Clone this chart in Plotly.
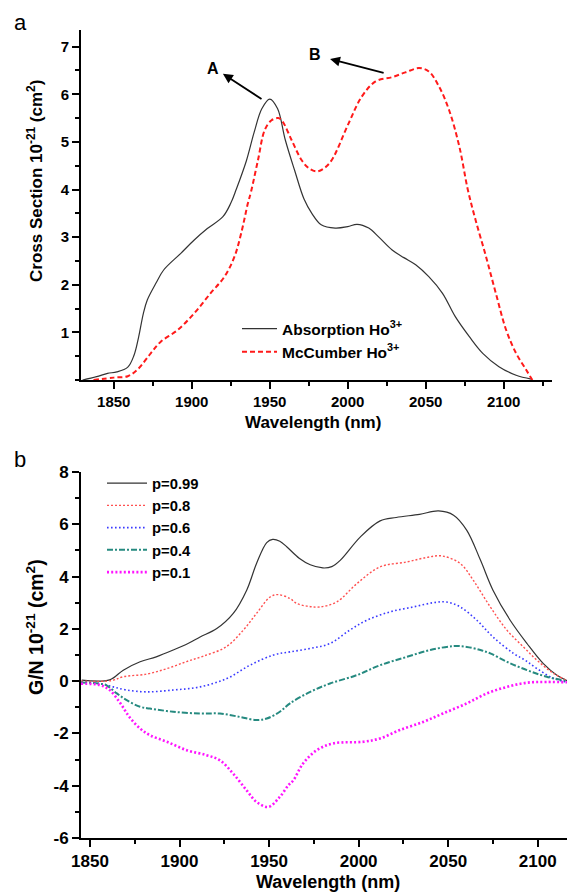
import plotly.graph_objects as go

# ---------------- Panel a data ----------------
abs_x = [1830, 1839, 1846, 1852, 1859, 1863, 1866, 1869, 1871.5, 1877, 1882, 1893, 1901.6, 1910,
         1920, 1925, 1928.5, 1935, 1940, 1945, 1950, 1955, 1960, 1966, 1972, 1977, 1983, 1992,
         2000, 2006, 2013.5, 2020, 2028.5, 2036, 2043.6, 2052, 2060.8, 2069, 2078, 2086.6, 2097,
         2108, 2117.7]
abs_y = [0.0, 0.07, 0.14, 0.17, 0.27, 0.52, 0.91, 1.4, 1.68, 2.03, 2.31, 2.66, 2.94, 3.18,
         3.43, 3.71, 4.0, 4.6, 5.2, 5.7, 5.9, 5.7, 5.04, 4.4, 3.8, 3.5, 3.26, 3.19,
         3.22, 3.27, 3.19, 3.0, 2.73, 2.57, 2.42, 2.17, 1.82, 1.33, 0.91, 0.56, 0.28,
         0.1, 0.02]

mc_x = [1837, 1850, 1859, 1865, 1873.7, 1880, 1891, 1901.6, 1912, 1921, 1927.4, 1931.7, 1936,
        1938, 1942.5, 1946.8, 1951, 1955.4, 1958, 1964, 1970.4, 1975, 1980, 1985, 1989.8, 2000.6,
        2009, 2017.9, 2028.5, 2037, 2045.7, 2052, 2058.6, 2065, 2071.6, 2077, 2082, 2088.7, 2095,
        2101.6, 2108, 2114.5, 2118.4]
mc_y = [0.0, 0.05, 0.08, 0.21, 0.56, 0.8, 1.05, 1.4, 1.82, 2.17, 2.59, 3.08, 3.71,
        3.95, 4.62, 5.25, 5.45, 5.5, 5.44, 5.04, 4.62, 4.45, 4.38, 4.45, 4.62, 5.39,
        5.95, 6.27, 6.36, 6.46, 6.55, 6.48, 6.16, 5.67, 4.9, 4.0, 3.36, 2.59, 1.82,
        1.05, 0.56, 0.21, 0.0]

# ---------------- Panel b data ----------------
p99_x = [1845.4, 1861, 1868.6, 1878, 1887, 1896.5, 1905, 1911.5, 1920.8, 1930, 1937.5, 1943, 1948.7,
         1952, 1956, 1960, 1967, 1973, 1980, 1985, 1989.7, 2001, 2012, 2021, 2034, 2044.6, 2053,
         2060.4, 2068, 2075, 2084.6, 2094, 2103, 2110.7, 2120]
p99_y = [0.04, 0.05, 0.42, 0.74, 0.93, 1.19, 1.45, 1.69, 2.01, 2.59, 3.48, 4.5, 5.3,
         5.42, 5.35, 5.13, 4.69, 4.45, 4.33, 4.38, 4.62, 5.52, 6.13, 6.26, 6.38, 6.51, 6.35,
         5.77, 4.63, 3.48, 2.33, 1.44, 0.68, 0.23, -0.09]

p08_x = [1845, 1862, 1868.6, 1881.7, 1893, 1904, 1913, 1926, 1935.6, 1943, 1950.6, 1955, 1961.7,
         1965.5, 1972, 1978.5, 1987.8, 1999, 2012, 2027, 2038, 2046.5, 2056.7, 2064, 2073.5,
         2082.8, 2092, 2099.6, 2109, 2120]
p08_y = [0.0, 0.02, 0.17, 0.27, 0.48, 0.75, 0.95, 1.31, 1.95, 2.59, 3.22, 3.31, 3.16,
         2.97, 2.86, 2.84, 3.03, 3.73, 4.37, 4.56, 4.73, 4.79, 4.5, 3.86, 2.84,
         1.95, 1.31, 0.8, 0.29, -0.09]

p06_x = [1845, 1855.6, 1863, 1870.5, 1881.7, 1896.5, 1911.5, 1926.4, 1939.4, 1952.4, 1961.7, 1973,
         1984, 1995, 2004.6, 2017.6, 2030.6, 2041.7, 2049, 2056.7, 2066, 2075, 2086.5, 2093,
         2099.6, 2109, 2120]
p06_y = [-0.05, -0.09, -0.22, -0.34, -0.41, -0.34, -0.22, 0.1, 0.61, 1.0, 1.12, 1.25,
         1.44, 1.95, 2.33, 2.65, 2.84, 3.0, 3.03, 2.84, 2.33, 1.69, 1.06, 0.8,
         0.48, 0.1, -0.09]

p04_x = [1845, 1855.6, 1859, 1865, 1870.5, 1878, 1883.5, 1896.5, 1911.5, 1922.6, 1933.8, 1943,
         1948.7, 1956, 1961.7, 1973, 1984, 1999, 2012, 2027, 2040, 2053, 2060.4, 2068, 2073.5,
         2082.8, 2094, 2105, 2120]
p04_y = [-0.05, -0.1, -0.15, -0.47, -0.73, -0.98, -1.05, -1.17, -1.24, -1.24, -1.37, -1.49,
         -1.43, -1.17, -0.85, -0.41, -0.09, 0.23, 0.61, 0.93, 1.19, 1.34, 1.31, 1.19, 1.06,
         0.74, 0.42, 0.17, -0.05]

p01_x = [1845, 1855.6, 1861, 1867, 1872, 1878, 1883.5, 1893, 1904, 1915, 1922.6, 1930, 1937.5,
         1943, 1949.6, 1956, 1960.8, 1963.6, 1969, 1976.6, 1986, 2002.7, 2012, 2023, 2036, 2047,
         2060.4, 2071.6, 2082.8, 2094, 2105, 2120]
p01_y = [-0.1, -0.15, -0.34, -0.85, -1.37, -1.81, -2.07, -2.32, -2.64, -2.83, -3.03, -3.54, -4.18,
         -4.62, -4.81, -4.43, -3.98, -3.79, -3.15, -2.64, -2.38, -2.32, -2.19, -1.87, -1.56, -1.24,
         -0.85, -0.47, -0.22, -0.06, -0.03, -0.05]

x_ticks = [1850, 1900, 1950, 2000, 2050, 2100]
ya_ticks = [1, 2, 3, 4, 5, 6, 7]
yb_ticks = [-6, -4, -2, 0, 2, 4, 6, 8]

# ---------------- layout helpers ----------------
OFF = 8  # page body margin
W, H = 575 - OFF, 895 - OFF
L, R, T, B = 81 - OFF, 0, 30 - OFF, 895 - 838
PW, PH = W - L - R, H - T - B


def px2x(px):
    return (px - OFF - L) / PW


def px2y(py):
    return (H - B - (py - OFF)) / PH


FONT = "Liberation Sans, Arial, sans-serif"


def bold(vals):
    return ["<b>%s</b>" % v for v in vals]


fig = go.Figure()

fig.add_trace(go.Scatter(x=abs_x, y=abs_y, mode="lines", line=dict(color="#333333", width=1.2, shape="spline"),
                         name="<b>Absorption Ho<sup>3+</sup></b>", xaxis="x", yaxis="y", legend="legend"))
fig.add_trace(go.Scatter(x=mc_x, y=mc_y, mode="lines", line=dict(color="#ff1a1a", width=2, dash="5px,3px", shape="spline"),
                         name="<b>McCumber Ho<sup>3+</sup></b>", xaxis="x", yaxis="y", legend="legend"))

fig.add_trace(go.Scatter(x=p99_x, y=p99_y, mode="lines", line=dict(color="#333333", width=1.2, shape="spline"),
                         name="<b>p=0.99</b>", xaxis="x2", yaxis="y2", legend="legend2"))
fig.add_trace(go.Scatter(x=p08_x, y=p08_y, mode="lines", line=dict(color="#ff5050", width=1.4, dash="2px,2px", shape="spline"),
                         name="<b>p=0.8</b>", xaxis="x2", yaxis="y2", legend="legend2"))
fig.add_trace(go.Scatter(x=p06_x, y=p06_y, mode="lines", line=dict(color="#3a3aff", width=1.6, dash="1.6px,2.4px", shape="spline"),
                         name="<b>p=0.6</b>", xaxis="x2", yaxis="y2", legend="legend2"))
fig.add_trace(go.Scatter(x=p04_x, y=p04_y, mode="lines", line=dict(color="#268a80", width=2, dash="6px,2px,2px,2px", shape="spline"),
                         name="<b>p=0.4</b>", xaxis="x2", yaxis="y2", legend="legend2"))
fig.add_trace(go.Scatter(x=p01_x, y=p01_y, mode="lines", line=dict(color="#ff14ff", width=2.6, dash="2px,2.2px", shape="spline"),
                         name="<b>p=0.1</b>", xaxis="x2", yaxis="y2", legend="legend2"))


def axis_common(fs):
    return dict(showline=True, linecolor="black", linewidth=2, ticks="outside", ticklen=7, tickwidth=2,
                tickcolor="black", showgrid=False, zeroline=False, mirror=False,
                tickfont=dict(family=FONT, size=fs, color="black"))


def minor(dt, t0):
    return dict(dtick=dt, tick0=t0, ticks="outside", ticklen=4, tickwidth=1.5, tickcolor="black")


top_dom_low = px2y(380)
bot_dom_high = px2y(472)

fig.update_layout(
    width=W, height=H,
    margin=dict(l=L, r=R, t=T, b=B),
    paper_bgcolor="white", plot_bgcolor="white",
    font=dict(family=FONT, size=15, color="black"),
    xaxis=dict(domain=[0, px2x(552)], range=[1829, 2131], anchor="y", tickmode="array",
               tickvals=x_ticks, ticktext=bold(x_ticks), minor=minor(25, 1825), **axis_common(15)),
    yaxis=dict(domain=[top_dom_low, 1], range=[0, 7.35], anchor="x", tickmode="array",
               tickvals=ya_ticks, ticktext=bold(ya_ticks), minor=minor(0.5, 0), **axis_common(15)),
    xaxis2=dict(domain=[0, 1], range=[1845, 2120.8], anchor="y2", tickmode="array",
                tickvals=x_ticks, ticktext=bold(x_ticks), minor=minor(25, 1825), **axis_common(17)),
    yaxis2=dict(domain=[0, bot_dom_high], range=[-6, 8], anchor="x2", tickmode="array",
                tickvals=yb_ticks, ticktext=bold(yb_ticks), minor=minor(1, 0), **axis_common(17)),
    legend=dict(x=px2x(237), y=px2y(312), xanchor="left", yanchor="top", bgcolor="rgba(0,0,0,0)",
                itemwidth=35, font=dict(family=FONT, size=15.5, color="black"), tracegroupgap=0),
    legend2=dict(x=px2x(102), y=px2y(467), xanchor="left", yanchor="top", bgcolor="rgba(0,0,0,0)",
                 itemwidth=40, font=dict(family=FONT, size=14.8, color="black"), tracegroupgap=0),
    showlegend=True,
)


def txt(text, px, py, size, angle=0, xa="center", ya="middle"):
    return dict(text=text, x=px2x(px), y=px2y(py), xref="paper", yref="paper", xanchor=xa, yanchor=ya,
                textangle=angle, showarrow=False, font=dict(family=FONT, size=size, color="black"))


ann = [
    txt("a", 12, 8, 22, xa="left", ya="top"),
    txt("b", 12, 445, 22, xa="left", ya="top"),
    txt("<b>Cross Section 10<sup>-21</sup> (cm<sup>2</sup>)</b>", 35, 181, 17, angle=-90),
    txt("<b>G/N 10<sup>-21</sup> (cm<sup>2</sup>)</b>", 35, 627, 19.5, angle=-90),
    txt("<b>Wavelength (nm)</b>", 313, 422, 17),
    txt("<b>Wavelength (nm)</b>", 328, 882, 18),
]
# A / B arrows
ann.append(dict(x=1920, y=6.43, ax=1945.7, ay=5.88, xref="x", yref="y", axref="x", ayref="y", text="",
                showarrow=True, arrowhead=2, arrowsize=1.1, arrowwidth=1.8, arrowcolor="black"))
ann.append(dict(x=1988.7, y=6.74, ax=2024, ay=6.44, xref="x", yref="y", axref="x", ayref="y", text="",
                showarrow=True, arrowhead=2, arrowsize=1.1, arrowwidth=1.8, arrowcolor="black"))
ann.append(dict(text="<b>A</b>", x=1913.5, y=6.55, xref="x", yref="y", showarrow=False,
                xanchor="center", yanchor="middle", font=dict(family=FONT, size=16, color="black")))
ann.append(dict(text="<b>B</b>", x=1979, y=6.83, xref="x", yref="y", showarrow=False,
                xanchor="center", yanchor="middle", font=dict(family=FONT, size=16, color="black")))
fig.update_layout(annotations=ann)

fig.write_html("out.html")
